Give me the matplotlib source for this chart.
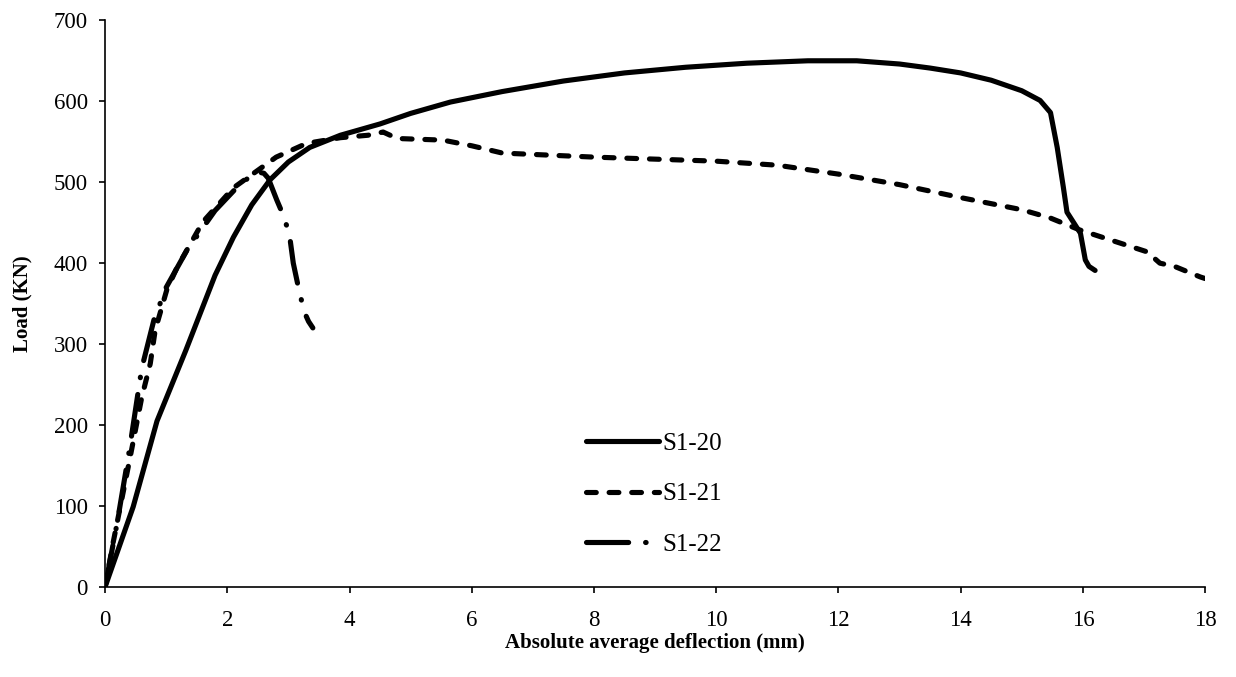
import matplotlib.pyplot as plt

plt.rcParams['font.family'] = ['Liberation Serif', 'DejaVu Serif']

# Load-deflection readings for the three specimens
defl_s1_20 = [0, 0.2, 0.46, 0.85, 1.32, 1.8, 2.1, 2.4, 2.7, 3.0, 3.35, 3.85, 4.5, 5.0,
              5.65, 6.5, 7.5, 8.5, 9.5, 10.5, 11.5, 12.3, 13.0, 13.5, 14.0, 14.5, 15.0,
              15.3, 15.47, 15.58, 15.68, 15.74, 15.85, 15.96, 16.04, 16.1, 16.2]
load_s1_20 = [0, 43, 99, 205, 292, 385, 432, 472, 503, 525, 543, 558, 572, 585,
              599, 612, 625, 635, 642, 647, 650, 650, 646, 641, 635, 626, 613,
              601, 586, 543, 494, 463, 450, 437, 404, 396, 391]

defl_s1_21 = [0, 0.13, 0.41, 0.6, 0.74, 0.82, 1.01, 1.18, 1.6, 2.1, 2.8, 3.3, 3.85,
              4.3, 4.55, 4.78, 5.53, 6.0, 6.5, 8.0, 10.0, 11.0, 12.0, 13.0, 14.0,
              15.0, 15.46, 15.95, 16.56, 17.05, 17.26, 17.5, 17.92, 18.0]
load_s1_21 = [0, 54, 160, 234, 276, 317, 367, 395, 451, 493, 531, 548, 555,
              558, 562, 554, 552, 545, 536, 531, 526, 521, 510, 497, 481,
              466, 456, 441, 426, 414, 400, 396, 383, 381]

defl_s1_22 = [0, 0.2, 0.4, 0.6, 0.8, 1.0, 1.34, 1.8, 2.2, 2.48, 2.6, 2.67, 2.81,
              2.9, 3.0, 3.03, 3.08, 3.15, 3.22, 3.27, 3.33, 3.4]
load_s1_22 = [0, 80, 170, 270, 330, 370, 416, 465, 497, 513, 511, 505, 478,
              462, 440, 428, 400, 375, 352, 338, 328, 320]

labels = ['S1-20', 'S1-21', 'S1-22']

fig = plt.figure(figsize=(12.36, 6.77), dpi=100)
ax = fig.add_axes([0.085, 0.133, 0.89, 0.837])

lw = 3.7
ax.plot(defl_s1_20, load_s1_20, color='black', lw=lw, solid_capstyle='round',
        solid_joinstyle='round', label=labels[0])
ax.plot(defl_s1_21, load_s1_21, color='black', lw=lw, linestyle=(0, (1.9, 2.5)),
        dash_capstyle='round', dash_joinstyle='round', label=labels[1])
ax.plot(defl_s1_22, load_s1_22, color='black', lw=lw, linestyle=(0, (8.2, 3.3, 0.1, 3.3)),
        dash_capstyle='round', dash_joinstyle='round', label=labels[2])

ax.set_xlim(0, 18)
ax.set_ylim(0, 700)
ax.set_xticks(range(0, 19, 2))
ax.set_yticks(range(0, 701, 100))
ax.tick_params(direction='out', length=4.5, width=1.2, labelsize=16.5)
ax.tick_params(axis='x', pad=12)
ax.tick_params(axis='y', pad=8)
for side in ('top', 'right'):
    ax.spines[side].set_visible(False)
for side in ('left', 'bottom'):
    ax.spines[side].set_linewidth(1.2)

ax.set_xlabel('Absolute average deflection (mm)', fontsize=15, fontweight='bold')
ax.set_ylabel('Load (KN)', fontsize=15, fontweight='bold')
ax.xaxis.set_label_coords(0.5, -0.081)
ax.yaxis.set_label_coords(-0.066, 0.5)

fig.legend(loc='center left', bbox_to_anchor=(0.464, 0.270), frameon=False,
           fontsize=18, handlelength=2.9, handletextpad=0.15, labelspacing=1.12,
           borderpad=0)

fig.savefig('out.png', dpi=100)
